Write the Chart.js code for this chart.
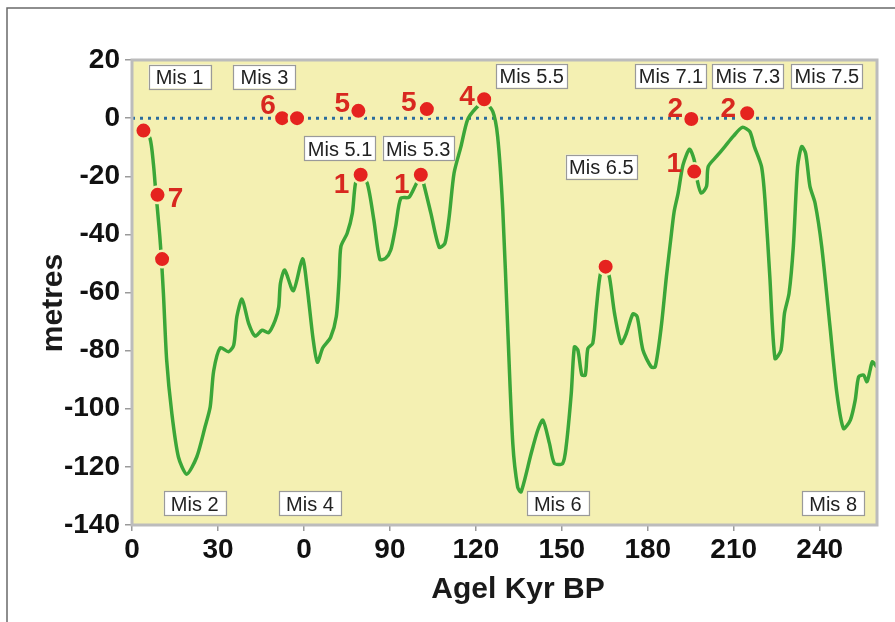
<!DOCTYPE html>
<html>
<head>
<meta charset="utf-8">
<script src="https://cdn.jsdelivr.net/npm/chart.js@4/dist/chart.umd.min.js"></script>
<style>
  html, body { margin: 0; padding: 0; background: #ffffff; }
  #wrap { position: relative; width: 895px; height: 622px; overflow: hidden; }
  canvas { position: absolute; left: 0; top: 0; }
</style>
</head>
<body>
<div id="wrap"><canvas id="c" width="895" height="622"></canvas></div>
<script>
// Sea-level curve: age (kyr BP) and level (metres)
const ageKyr = [
  4.3, 6.3, 7.5, 8.05, 9.8, 10.96, 12.1, 13.9, 16.2, 19.1, 22.6, 25.5, 27.3, 28.5, 30.8,
  33.7, 35.5, 36.6, 38.4, 40.7, 43.0, 45.4, 47.7, 50.0, 51.2, 51.8, 53.3, 56.3, 59.5, 61.1,
  63.2, 64.7, 66.6, 69.3, 71.3, 72.3, 72.9, 75.1, 76.9, 78.0, 79.6, 82.1, 84.4, 86.5, 88.5,
  90.3, 92.0, 93.8, 96.7, 99.0, 100.8, 101.9, 104.3, 107.2, 109.2, 110.7, 112.4, 114.8, 117.1, 120.0,
  122.9, 125.9, 127.6, 129.4, 131.1, 132.9, 134.6, 135.8, 139.3, 141.6, 143.4, 145.7, 147.4, 150.3, 151.5,
  153.3, 154.4, 155.6, 157.0, 158.2, 159.1, 160.8, 162.0, 163.5, 165.3, 166.7, 168.4, 170.7, 172.5, 174.8,
  176.3, 178.3, 181.2, 182.6, 184.7, 186.5, 188.0, 189.2, 190.6, 192.3, 194.6, 196.2, 197.4, 198.7, 200.5,
  201.1, 204.0, 206.9, 209.8, 213.0, 215.6, 217.2, 219.7, 220.9, 222.6, 224.4, 226.5, 227.7, 229.3, 230.8,
  232.3, 233.7, 235.1, 236.6, 238.4, 240.7, 243.6, 246.0, 248.3, 250.7, 252.4, 253.6, 255.3, 256.5, 257.6,
  258.4, 259.9
];
const seaLevel = [
  -5, -7, -16, -22.4, -41.9, -60.3, -83.3, -101.6, -116.6, -122.5, -116.6, -106.2, -99.3, -87, -79,
  -80.4, -78.1, -68.3, -62.3, -70.6, -75.0, -73, -73.8, -69.5, -65, -56.8, -52.3, -59.4, -48.4, -58.0,
  -76, -84, -79, -75.5, -68.3, -55, -44.2, -39.6, -32.7, -22.4, -19.5, -22.4, -35, -48.6, -48.2,
  -45.4, -37.3, -27.6, -27.2, -23.0, -19.5, -23, -32.7, -44.4, -43.1, -33.9, -18.9, -9.8, -0.6, 3.4,
  5.5, 2.3, -6.3, -31.6, -71.8, -112, -127, -128.6, -115.4, -107.4, -103.9, -112, -118.8, -118.8, -113.1,
  -94.7, -78.7, -79.8, -88.4, -88.4, -79.2, -77.5, -66, -53.4, -51, -55.1, -67.2, -77.5, -74.1, -67.4,
  -68.3, -79.8, -85.6, -85.6, -71.8, -54.6, -41.9, -32.2, -25.8, -16.1, -10.7, -14.4, -22, -25.8, -23.5,
  -16.7, -13.2, -9.8, -6.3, -3.2, -4.6, -9.8, -16.7, -28.1, -54.6, -82.7, -79.8, -67.2, -60.3, -44.2,
  -16.7, -9.8, -12.1, -23.5, -29.3, -44.2, -71.8, -94.7, -106.8, -103.9, -97, -89, -88.4, -90.7, -86.7,
  -83.8, -85.6
];

// Dated sample points with their reference numbers
const markerAge   = [4.0, 8.9, 10.5, 52.4, 57.6, 79.0, 102.9, 122.9, 79.8, 100.8, 165.3, 195.2, 196.2, 214.7];
const markerLevel = [-4.3, -26.4, -48.5, 0, 0, 2.5, 3.1, 6.5, -19.5, -19.5, -51.1, -0.3, -18.4, 1.7];
const markerLabel = ['', '7', '', '6', '', '5', '5', '4', '1', '1', '', '2', '1', '2'];

// Marine isotope stage labels and where they sit (age, metres)
const stageName  = ['Mis 1', 'Mis 3', 'Mis 5.1', 'Mis 5.3', 'Mis 5.5', 'Mis 6.5', 'Mis 7.1', 'Mis 7.3', 'Mis 7.5',
                    'Mis 2', 'Mis 4', 'Mis 6', 'Mis 8'];
const stageAge   = [16.6, 46.2, 72.6, 99.9, 139.5, 163.8, 188.1, 214.9, 242.5, 21.9, 62.1, 148.6, 244.7];
const stageLevel = [14.3, 14.3, -10.3, -10.3, 14.6, -16.7, 14.6, 14.6, 14.6, -132.5, -132.5, -132.5, -132.5];

// Axis ticks
const xTickValues = [0, 30, 60, 90, 120, 150, 180, 210, 240];
const xTickLabels = ['0', '30', '0', '90', '120', '150', '180', '210', '240'];
const yTickValues = [20, 0, -20, -40, -60, -80, -100, -120, -140];

// ---- styling ----
const FONT = '"Liberation Sans", Arial, Helvetica, sans-serif';
const PLOT_BG = '#f4f0b2';
const FRAME = '#bcbcbc';
const NUM_RED = '#d8281f';
// pixel offset of each reference number from its point
const markerLabelOffset = [[0,0],[18,2],[0,0],[-14,-14],[0,0],[-16,-9],[-18,-8],[-17,-4],[-19,8],[-19,8],[0,0],[-16,-12],[-20,-10],[-19,-6]];

const curvePoints = ageKyr.map((a, i) => ({ x: a, y: seaLevel[i] }));
const markerPoints = markerAge.map((a, i) => ({ x: a, y: markerLevel[i] }));

const decorations = {
  id: 'decorations',
  beforeDatasetsDraw(chart) {
    const { ctx, chartArea: a } = chart;
    ctx.save();
    ctx.fillStyle = PLOT_BG;
    ctx.fillRect(a.left, a.top, a.right - a.left, a.bottom - a.top);
    ctx.restore();
  },
  afterDatasetsDraw(chart) {
    const { ctx, chartArea: a, scales } = chart;
    const xs = scales.x, ys = scales.y;
    ctx.save();

    // plot frame
    ctx.strokeStyle = FRAME;
    ctx.lineWidth = 3;
    ctx.strokeRect(a.left, a.top, a.right - a.left, a.bottom - a.top);

    // reference numbers next to the sample points
    ctx.fillStyle = NUM_RED;
    ctx.font = 'bold 28px ' + FONT;
    ctx.textAlign = 'center';
    ctx.textBaseline = 'alphabetic';
    markerLabel.forEach((t, i) => {
      if (!t) return;
      const px = xs.getPixelForValue(markerAge[i]) + markerLabelOffset[i][0];
      const py = ys.getPixelForValue(markerLevel[i]) + markerLabelOffset[i][1];
      ctx.fillText(t, px, py + 10);
    });

    // isotope stage boxes
    ctx.font = '20px ' + FONT;
    stageName.forEach((t, i) => {
      const cx = xs.getPixelForValue(stageAge[i]);
      const cy = ys.getPixelForValue(stageLevel[i]);
      const w = Math.max(ctx.measureText(t).width + 7, 62);
      const h = 24;
      ctx.fillStyle = '#ffffff';
      ctx.fillRect(cx - w / 2, cy - h / 2, w, h);
      ctx.strokeStyle = '#9a9a9a';
      ctx.lineWidth = 1.2;
      ctx.strokeRect(Math.round(cx - w / 2) + 0.5, Math.round(cy - h / 2) + 0.5, Math.round(w), h);
      ctx.fillStyle = '#222222';
      ctx.textAlign = 'center';
      ctx.textBaseline = 'alphabetic';
      ctx.fillText(t, cx, cy + 7.5);
    });

    // axis titles
    ctx.fillStyle = '#1a1a1a';
    ctx.font = 'bold 30px ' + FONT;
    ctx.textAlign = 'center';
    ctx.textBaseline = 'alphabetic';
    ctx.fillText('Agel Kyr BP', 518, 598);
    ctx.save();
    ctx.translate(61.5, 303);
    ctx.rotate(-Math.PI / 2);
    ctx.fillText('metres', 0, 0);
    ctx.restore();

    // outer picture border
    ctx.strokeStyle = '#6a6a6a';
    ctx.lineWidth = 1.5;
    ctx.beginPath();
    ctx.moveTo(7, 622);
    ctx.lineTo(7, 8);
    ctx.lineTo(895, 8);
    ctx.stroke();

    ctx.restore();
  }
};

new Chart(document.getElementById('c'), {
  type: 'scatter',
  data: {
    datasets: [
      {
        data: markerPoints,
        showLine: false,
        pointRadius: 8.25,
        pointHoverRadius: 8.25,
        pointBackgroundColor: '#e5231f',
        pointBorderColor: PLOT_BG,
        pointBorderWidth: 2.5
      },
      {
        data: curvePoints,
        showLine: true,
        borderColor: '#3ba638',
        borderWidth: 3.5,
        tension: 0.25,
        pointRadius: 0,
        fill: false
      },
      {
        data: [{ x: 0, y: 0 }, { x: 260, y: 0 }],
        showLine: true,
        borderColor: '#2b6c9c',
        borderWidth: 3,
        borderDash: [3, 5],
        pointRadius: 0,
        fill: false
      }
    ]
  },
  options: {
    responsive: false,
    animation: false,
    devicePixelRatio: 1,
    events: [],
    layout: { padding: { top: 60, right: 18, left: 0, bottom: 0 } },
    plugins: { legend: { display: false }, tooltip: { enabled: false } },
    scales: {
      x: {
        type: 'linear',
        min: 0,
        max: 260,
        afterBuildTicks: s => { s.ticks = xTickValues.map(v => ({ value: v })); },
        afterFit: s => { s.height = 97; },
        ticks: {
          autoSkip: false,
          maxRotation: 0,
          padding: 2,
          color: '#111111',
          font: { family: FONT, size: 28, weight: 'bold' },
          callback: (v, i) => xTickLabels[i]
        },
        grid: { drawOnChartArea: false, drawTicks: true, tickLength: 6, color: '#9a9a9a', lineWidth: 1.5 },
        border: { display: false }
      },
      y: {
        type: 'linear',
        min: -140,
        max: 20,
        afterBuildTicks: s => { s.ticks = yTickValues.map(v => ({ value: v })); },
        afterFit: s => { s.width = 132; },
        ticks: {
          padding: 5,
          color: '#111111',
          font: { family: FONT, size: 28, weight: 'bold' }
        },
        grid: { drawOnChartArea: false, drawTicks: true, tickLength: 7, color: '#9a9a9a', lineWidth: 1.5 },
        border: { display: false }
      }
    }
  },
  plugins: [decorations]
});
</script>
</body>
</html>
